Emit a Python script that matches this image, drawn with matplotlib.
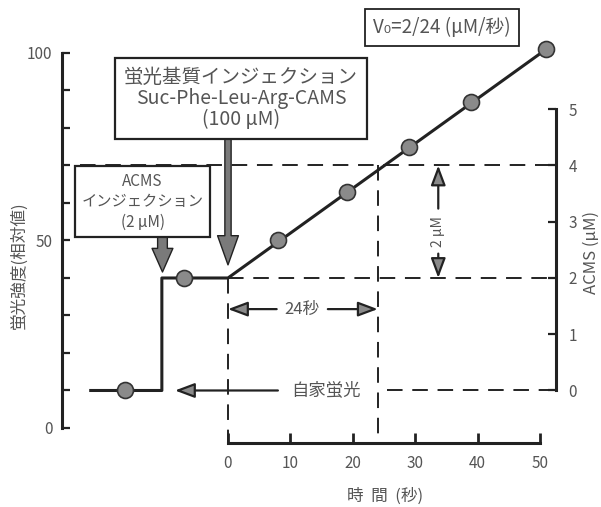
import matplotlib
matplotlib.use('Agg')
import matplotlib.pyplot as plt

plt.rcParams['font.family'] = ['Noto Sans CJK JP', 'DejaVu Sans']

# measured points (time in s, fluorescence relative)
time_pts = [-16.5, -7, 8, 19, 29, 39, 51]
fluor_pts = [10, 40, 50, 63, 75, 87, 101]

# continuous trace
trace_t = [-22, -10.6, -10.6, 0, 51]
trace_f = [10, 10, 40, 40, 101]

x_ticks = [0, 10, 20, 30, 40, 50]
f_ticks = list(range(0, 101, 10))
f_labels = {0: '0', 50: '50', 100: '100'}
acms_ticks = [0, 1, 2, 3, 4, 5]

ink = '#222222'
txt = '#555555'
fill = '#8a8a8a'

fig = plt.figure(figsize=(6.01, 5.07), dpi=100)
ax = fig.add_axes([0, 0, 1, 1])
ax.set_xlim(-36.54, 59.78)
ax.set_ylim(-21.07, 114.13)
ax.patch.set_visible(False)

# F -> ACMS conversion: ACMS = (F - 10) / 15
ax2 = ax.twinx()
ax2.set_ylim((-21.07 - 10) / 15, (114.13 - 10) / 15)

for s in ['top', 'right']:
    ax.spines[s].set_visible(False)
for s in ['top', 'left', 'bottom']:
    ax2.spines[s].set_visible(False)

ax.spines['left'].set_position(('data', -26.6))
ax.spines['left'].set_bounds(0, 100)
ax.spines['left'].set_linewidth(2.2)
ax.spines['left'].set_color(ink)
ax.set_yticks(f_ticks)
ax.set_yticklabels([f_labels.get(v, '') for v in f_ticks])
ax.tick_params(axis='y', direction='in', length=6, width=1.6, pad=7,
               labelsize=11, labelcolor=txt, color=ink)

ax.spines['bottom'].set_position(('data', -4))
ax.spines['bottom'].set_bounds(0, 50)
ax.spines['bottom'].set_linewidth(2.2)
ax.spines['bottom'].set_color(ink)
ax.set_xticks(x_ticks)
ax.tick_params(axis='x', direction='in', length=7, width=2, pad=9,
               labelsize=11, labelcolor=txt, color=ink)

ax2.spines['right'].set_position(('data', 52.6))
ax2.spines['right'].set_bounds(0, 5)
ax2.spines['right'].set_linewidth(2.2)
ax2.spines['right'].set_color(ink)
ax2.set_yticks(acms_ticks)
ax2.tick_params(axis='y', direction='in', length=6, width=1.6, pad=9,
                labelsize=11, labelcolor=txt, color=ink)

# axis titles
fig.text(19 / 601, 1 - 265 / 507, '蛍光強度(相対値)', rotation=90,
         ha='center', va='center', fontsize=12, color=txt)
fig.text(591 / 601, 1 - 252 / 507, 'ACMS (μM)', rotation=90,
         ha='center', va='center', fontsize=12, color=txt)
fig.text(385 / 601, 1 - 496 / 507, '時  間  (秒)',
         ha='center', va='center', fontsize=12, color=txt)

# dashed guide lines
dash = dict(color=ink, lw=1.4, dashes=(8, 5))
ax.plot([-23.7, 52.6], [70, 70], **dash)
ax.plot([0, 52.6], [40, 40], **dash)
ax.plot([25.5, 52.6], [10, 10], **dash)
ax.plot([0, 0], [40, -4], **dash)
ax.plot([24, 24], [70, -4], **dash)

# trace and points
ax.plot(trace_t, trace_f, color=ink, lw=2.2, zorder=3)
ax.plot(time_pts, fluor_pts, 'o', ms=11.5, mfc=fill, mec='#333333',
        mew=1.2, zorder=4)

# boxes with injection arrows
ax.text(2.1, 87.9, '蛍光基質インジェクション\nSuc-Phe-Leu-Arg-CAMS\n(100 μM)',
        ha='center', va='center', fontsize=14, color=txt,
        bbox=dict(boxstyle='square,pad=0.48', fc='white', ec=ink, lw=1.6),
        linespacing=1.0, zorder=5)
ax.text(-13.7, 60.3, 'ACMS\nインジェクション\n(2 μM)',
        ha='center', va='center', fontsize=11, color=txt,
        bbox=dict(boxstyle='square,pad=0.45', fc='white', ec=ink, lw=1.6),
        linespacing=1.25, zorder=5)
ax.text(34.3, 106.8, 'V₀=2/24 (μM/秒)', ha='center', va='center',
        fontsize=13.5, color=txt, bbox=dict(boxstyle='square,pad=0.45',
        fc='white', ec=ink, lw=1.3), zorder=5)

big = dict(width=4.5, headwidth=15, headlength=21, fc='#7a7a7a',
           ec=ink, lw=1)
ax.annotate('', xy=(0, 43.5), xytext=(0, 77.0), arrowprops=big, zorder=4)
small = dict(width=7, headwidth=15, headlength=17, fc='#7a7a7a',
             ec=ink, lw=1)
ax.annotate('', xy=(-10.5, 41.6), xytext=(-10.5, 51.2), arrowprops=small,
            zorder=4)

# autofluorescence arrow
head = dict(arrowstyle='-|>,head_length=1.2,head_width=0.45', fc=fill,
            ec=ink, lw=1.6, shrinkA=0, shrinkB=0)
ax.annotate('', xy=(-8.5, 10), xytext=(8, 10), arrowprops=head)
ax.text(15.7, 10, '自家蛍光', ha='center', va='center', fontsize=12.5,
        color=txt)

# 24 s span
ax.annotate('', xy=(0, 31.7), xytext=(7.8, 31.7), arrowprops=head)
ax.annotate('', xy=(24, 31.7), xytext=(16, 31.7), arrowprops=head)
ax.text(11.9, 31.7, '24秒', ha='center', va='center', fontsize=12,
        color=txt)

# 2 uM span
ax.annotate('', xy=(33.7, 70), xytext=(33.7, 58.5), arrowprops=head)
ax.annotate('', xy=(33.7, 40), xytext=(33.7, 46.5), arrowprops=head)
ax.text(33.7, 52.5, '2 μM', ha='center', va='center', fontsize=10,
        color=txt, rotation=90)

fig.savefig('out.png', dpi=100)
